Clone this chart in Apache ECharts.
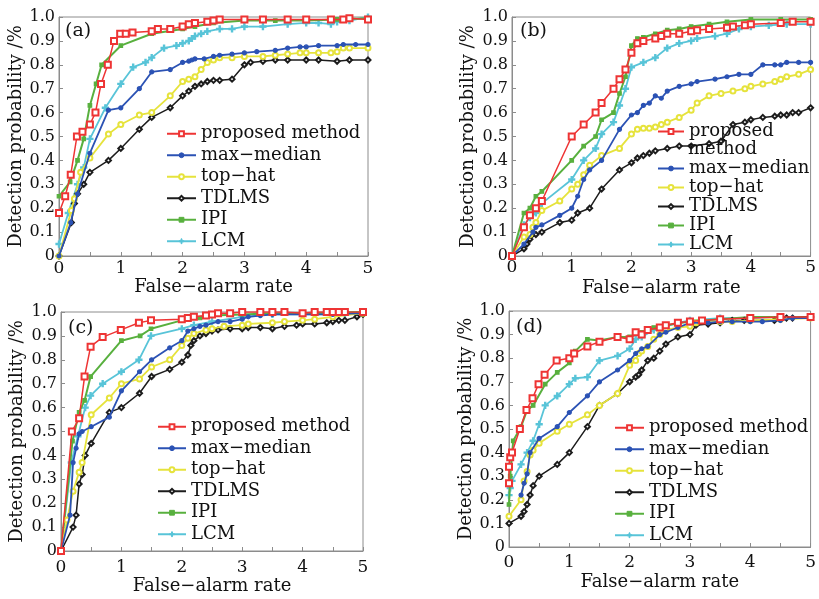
<!DOCTYPE html>
<html>
<head>
<meta charset="utf-8">
<script src="https://cdn.jsdelivr.net/npm/echarts@6/dist/echarts.min.js"></script>
<style>
  html, body { margin: 0; background: #fff; }
  #main { width: 819px; height: 599px; }
</style>
</head>
<body>
<div id="main"></div>
<script>
// method names (legend order)
const methods = ['proposed method', 'max\u2212median', 'top\u2212hat', 'TDLMS', 'IPI', 'LCM'];
const panelTags = ['(a)', '(b)', '(c)', '(d)'];
const xTicks = [0, 1, 2, 3, 4, 5];

// ---- panel (a) ----
const propA = [[0,0.18],[0.1,0.25],[0.19,0.34],[0.29,0.5],[0.38,0.52],[0.5,0.55],[0.59,0.6],[0.68,0.72],[0.79,0.8],[0.89,0.9],[0.99,0.93],[1.08,0.93],[1.19,0.935],[1.5,0.94],[1.6,0.95],[1.8,0.95],[2.0,0.96],[2.1,0.97],[2.2,0.975],[2.4,0.98],[2.5,0.985],[2.6,0.99],[3.0,0.99],[3.3,0.99],[3.7,0.99],[4.0,0.99],[4.4,0.99],[4.6,0.99],[4.7,0.995],[5,0.99]];
const maxMedA = [[0,0],[0.19,0.14],[0.3,0.26],[0.5,0.43],[0.8,0.61],[1.0,0.62],[1.3,0.7],[1.5,0.77],[1.8,0.78],[2.0,0.81],[2.1,0.815],[2.15,0.82],[2.2,0.825],[2.35,0.825],[2.5,0.835],[2.6,0.84],[2.8,0.845],[3.0,0.85],[3.2,0.855],[3.5,0.86],[3.7,0.87],[3.9,0.875],[4.0,0.875],[4.2,0.88],[4.5,0.88],[4.6,0.885],[4.8,0.885],[5,0.885]];
const topHatA = [[0,0],[0.2,0.19],[0.25,0.24],[0.35,0.35],[0.5,0.41],[0.8,0.51],[1.0,0.55],[1.3,0.59],[1.5,0.6],[1.8,0.67],[2.0,0.73],[2.1,0.74],[2.2,0.75],[2.3,0.78],[2.4,0.81],[2.5,0.82],[2.6,0.83],[2.8,0.83],[3.0,0.835],[3.3,0.835],[3.5,0.84],[3.7,0.845],[3.9,0.85],[4.0,0.85],[4.2,0.85],[4.4,0.85],[4.5,0.855],[4.6,0.87],[4.7,0.87],[5,0.87]];
const tdlmsA = [[0,0],[0.2,0.14],[0.25,0.22],[0.3,0.26],[0.4,0.3],[0.5,0.35],[0.8,0.4],[1.0,0.45],[1.3,0.53],[1.5,0.58],[1.8,0.62],[2.0,0.67],[2.1,0.69],[2.2,0.71],[2.3,0.72],[2.4,0.73],[2.5,0.735],[2.6,0.735],[2.8,0.74],[3.0,0.8],[3.1,0.81],[3.3,0.815],[3.5,0.82],[3.7,0.82],[4.0,0.82],[4.2,0.82],[4.5,0.815],[4.7,0.82],[5,0.82]];
const ipiA = [[0,0.25],[0.18,0.31],[0.3,0.4],[0.4,0.49],[0.5,0.63],[0.6,0.72],[0.69,0.8],[1.0,0.88],[1.5,0.93],[2.0,0.95],[2.2,0.96],[2.5,0.975],[3.0,0.985],[3.5,0.985],[4.0,0.985],[4.5,0.99],[5,0.995]];
const lcmA = [[0,0.05],[0.15,0.18],[0.3,0.3],[0.4,0.37],[0.5,0.49],[0.75,0.62],[1.0,0.72],[1.2,0.79],[1.4,0.81],[1.5,0.83],[1.7,0.87],[1.9,0.88],[2.0,0.89],[2.1,0.9],[2.15,0.91],[2.2,0.92],[2.3,0.93],[2.4,0.94],[2.6,0.95],[2.8,0.95],[3.0,0.96],[3.3,0.96],[3.7,0.97],[4.0,0.975],[4.2,0.975],[4.4,0.97],[4.5,0.98],[4.7,0.985],[5,1.0]];

// ---- panel (b) ----
const propB = [[0,0],[0.2,0.12],[0.3,0.17],[0.4,0.2],[0.5,0.23],[1.0,0.5],[1.2,0.55],[1.4,0.6],[1.5,0.64],[1.7,0.7],[1.8,0.74],[1.9,0.78],[2.0,0.85],[2.1,0.89],[2.2,0.9],[2.4,0.91],[2.5,0.92],[2.6,0.93],[2.8,0.93],[3.0,0.94],[3.1,0.945],[3.3,0.95],[3.6,0.955],[3.7,0.96],[3.9,0.965],[4.0,0.97],[4.5,0.975],[4.7,0.98],[5,0.98]];
const maxMedB = [[0,0],[0.2,0.05],[0.35,0.1],[0.4,0.12],[0.5,0.13],[0.8,0.17],[1.0,0.2],[1.1,0.25],[1.2,0.32],[1.3,0.36],[1.5,0.4],[1.8,0.53],[2.0,0.59],[2.1,0.6],[2.2,0.63],[2.3,0.64],[2.4,0.67],[2.5,0.66],[2.6,0.69],[2.8,0.71],[3.0,0.72],[3.1,0.73],[3.4,0.74],[3.6,0.75],[3.8,0.76],[4.0,0.76],[4.2,0.8],[4.4,0.8],[4.5,0.8],[4.6,0.81],[4.8,0.81],[5,0.81]];
const topHatB = [[0,0],[0.2,0.08],[0.3,0.09],[0.35,0.12],[0.4,0.14],[0.5,0.19],[0.8,0.23],[1.0,0.28],[1.1,0.3],[1.2,0.34],[1.3,0.38],[1.5,0.42],[1.8,0.45],[2.0,0.51],[2.1,0.53],[2.2,0.535],[2.3,0.535],[2.4,0.54],[2.5,0.55],[2.6,0.56],[2.8,0.58],[3.0,0.61],[3.1,0.64],[3.3,0.67],[3.5,0.68],[3.7,0.69],[3.9,0.7],[4.0,0.71],[4.2,0.72],[4.4,0.73],[4.5,0.74],[4.6,0.75],[4.8,0.76],[5,0.78]];
const tdlmsB = [[0,0],[0.2,0.03],[0.25,0.05],[0.3,0.07],[0.4,0.09],[0.5,0.1],[0.8,0.14],[1.0,0.15],[1.1,0.18],[1.3,0.2],[1.5,0.28],[1.8,0.36],[2.0,0.39],[2.1,0.41],[2.2,0.42],[2.3,0.43],[2.4,0.44],[2.6,0.45],[2.8,0.46],[3.0,0.46],[3.3,0.47],[3.5,0.48],[3.7,0.55],[3.9,0.56],[4.0,0.57],[4.2,0.58],[4.4,0.585],[4.5,0.59],[4.6,0.59],[4.7,0.6],[4.8,0.6],[5,0.62]];
const ipiB = [[0,0],[0.2,0.18],[0.3,0.2],[0.4,0.25],[0.5,0.27],[1.0,0.4],[1.2,0.46],[1.4,0.5],[1.5,0.57],[1.7,0.6],[1.8,0.68],[1.9,0.75],[2.0,0.88],[2.1,0.91],[2.2,0.915],[2.4,0.93],[2.6,0.945],[2.8,0.95],[3.0,0.96],[3.3,0.97],[3.6,0.98],[4.0,0.99],[4.5,0.99],[5,0.99]];
const lcmB = [[0,0],[0.2,0.13],[0.3,0.16],[0.4,0.18],[0.5,0.22],[1.0,0.32],[1.2,0.4],[1.4,0.45],[1.5,0.51],[1.7,0.56],[1.8,0.63],[1.9,0.7],[2.0,0.79],[2.2,0.81],[2.4,0.83],[2.6,0.87],[2.8,0.89],[3.0,0.9],[3.1,0.91],[3.4,0.92],[3.6,0.93],[3.8,0.95],[4.0,0.96],[4.3,0.965],[4.6,0.97],[5,0.97]];

// ---- panel (c) ----
const propC = [[0,0],[0.18,0.5],[0.3,0.555],[0.39,0.73],[0.49,0.855],[0.69,0.895],[0.99,0.925],[1.29,0.955],[1.49,0.965],[2.0,0.97],[2.1,0.975],[2.2,0.98],[2.4,0.985],[2.5,0.99],[2.6,0.995],[2.8,0.995],[3.0,1.0],[3.3,1.0],[3.5,1.0],[3.7,1.0],[4.0,0.995],[4.2,1.0],[4.4,1.0],[4.5,1.0],[4.6,1.0],[4.7,1.0],[5,1.0]];
const maxMedC = [[0,0],[0.15,0.15],[0.2,0.37],[0.25,0.43],[0.3,0.49],[0.35,0.5],[0.5,0.52],[0.8,0.56],[1.0,0.67],[1.3,0.75],[1.5,0.8],[1.8,0.85],[2.0,0.88],[2.1,0.92],[2.2,0.93],[2.3,0.94],[2.4,0.945],[2.6,0.96],[2.8,0.96],[3.0,0.97],[3.1,0.98],[3.3,0.985],[3.5,0.99],[4.0,0.99],[4.5,0.99],[5,0.995]];
const topHatC = [[0,0],[0.1,0.13],[0.2,0.25],[0.3,0.33],[0.35,0.37],[0.5,0.57],[0.8,0.64],[1.0,0.7],[1.3,0.72],[1.5,0.77],[1.8,0.8],[2.0,0.86],[2.1,0.89],[2.2,0.91],[2.4,0.925],[2.5,0.93],[2.7,0.94],[3.0,0.945],[3.1,0.95],[3.5,0.955],[3.7,0.96],[4.0,0.965],[4.2,0.97],[4.5,0.98],[5,0.995]];
const tdlmsC = [[0,0],[0.2,0.1],[0.25,0.15],[0.3,0.28],[0.35,0.32],[0.4,0.4],[0.5,0.45],[0.8,0.58],[1.0,0.6],[1.3,0.66],[1.5,0.73],[1.8,0.76],[2.0,0.79],[2.1,0.82],[2.15,0.86],[2.2,0.88],[2.3,0.9],[2.4,0.91],[2.5,0.92],[2.6,0.925],[2.8,0.93],[3.0,0.93],[3.1,0.935],[3.3,0.935],[3.5,0.93],[3.7,0.94],[3.9,0.945],[4.0,0.95],[4.2,0.95],[4.4,0.955],[4.5,0.96],[4.6,0.965],[4.7,0.965],[4.9,0.98],[5,0.99]];
const ipiC = [[0,0],[0.19,0.46],[0.3,0.58],[0.39,0.63],[0.49,0.73],[1.0,0.88],[1.31,0.9],[1.49,0.93],[2.0,0.965],[2.3,0.975],[2.5,0.985],[3.0,0.99],[3.5,0.995],[4.0,0.995],[5,1.0]];
const lcmC = [[0,0],[0.17,0.37],[0.28,0.48],[0.4,0.6],[0.49,0.65],[0.69,0.7],[1.0,0.75],[1.29,0.8],[1.49,0.9],[2.0,0.93],[2.2,0.945],[2.5,0.96],[3.0,0.98],[3.5,0.99],[4.0,0.99],[4.7,0.99],[5,1.0]];

// ---- panel (d) ----
const propD = [[0,0.27],[0,0.34],[0.02,0.38],[0.05,0.4],[0.18,0.5],[0.29,0.58],[0.39,0.63],[0.49,0.69],[0.59,0.73],[0.79,0.79],[1.0,0.8],[1.08,0.82],[1.3,0.85],[1.5,0.87],[1.8,0.89],[2.0,0.88],[2.1,0.91],[2.2,0.9],[2.3,0.92],[2.5,0.93],[2.6,0.94],[2.8,0.95],[3.0,0.955],[3.2,0.96],[3.5,0.965],[4.0,0.97],[4.5,0.975],[5,0.975]];
const maxMedD = [[0.2,0.22],[0.25,0.27],[0.3,0.31],[0.35,0.4],[0.5,0.46],[0.8,0.51],[1.0,0.57],[1.3,0.64],[1.5,0.7],[1.8,0.75],[2.0,0.79],[2.1,0.82],[2.2,0.84],[2.3,0.85],[2.5,0.9],[2.6,0.91],[2.8,0.93],[3.0,0.95],[3.3,0.95],[3.5,0.955],[3.7,0.955],[4.0,0.955],[4.2,0.955],[4.5,0.96],[4.7,0.97],[5,0.97]];
const topHatD = [[0,0.13],[0.2,0.2],[0.25,0.28],[0.3,0.32],[0.35,0.39],[0.4,0.41],[0.5,0.44],[0.8,0.49],[1.0,0.52],[1.3,0.56],[1.5,0.6],[1.8,0.65],[2.0,0.77],[2.1,0.79],[2.15,0.82],[2.2,0.83],[2.3,0.85],[2.4,0.88],[2.5,0.9],[2.6,0.92],[2.8,0.93],[3.0,0.935],[3.1,0.95],[3.5,0.955],[3.7,0.955],[4.0,0.96],[4.5,0.965],[5,0.97]];
const tdlmsD = [[0,0.1],[0.2,0.13],[0.25,0.15],[0.3,0.18],[0.35,0.22],[0.4,0.26],[0.5,0.3],[0.8,0.35],[1.0,0.4],[1.3,0.51],[1.5,0.6],[1.8,0.65],[2.0,0.7],[2.1,0.72],[2.15,0.73],[2.2,0.75],[2.3,0.79],[2.4,0.8],[2.5,0.83],[2.6,0.86],[2.8,0.89],[3.0,0.9],[3.1,0.94],[3.3,0.945],[3.5,0.95],[3.7,0.96],[3.9,0.96],[4.0,0.96],[4.4,0.96],[4.5,0.965],[4.6,0.97],[4.7,0.97],[5,0.975]];
const ipiD = [[0,0.18],[0.02,0.3],[0.07,0.45],[0.2,0.51],[0.3,0.58],[0.4,0.6],[0.6,0.69],[0.8,0.74],[1.0,0.78],[1.1,0.83],[1.3,0.88],[1.5,0.875],[1.8,0.89],[2.0,0.89],[2.2,0.91],[2.4,0.93],[2.6,0.94],[3.0,0.955],[3.5,0.965],[4.0,0.975],[4.5,0.975],[5,0.975]];
const lcmD = [[0,0.22],[0.02,0.25],[0.05,0.28],[0.2,0.35],[0.3,0.4],[0.4,0.45],[0.5,0.52],[0.6,0.6],[0.8,0.64],[1.0,0.69],[1.1,0.715],[1.3,0.72],[1.5,0.79],[1.8,0.81],[2.0,0.84],[2.1,0.88],[2.2,0.89],[2.4,0.92],[2.6,0.935],[2.8,0.95],[3.0,0.96],[3.5,0.97],[4.0,0.97],[4.5,0.975],[5,0.975]];

const panels = [
  [propA, maxMedA, topHatA, tdlmsA, ipiA, lcmA],
  [propB, maxMedB, topHatB, tdlmsB, ipiB, lcmB],
  [propC, maxMedC, topHatC, tdlmsC, ipiC, lcmC],
  [propD, maxMedD, topHatD, tdlmsD, ipiD, lcmD]
];

const FONT = 'DejaVu Serif';
const plus = 'path://M4,0H6V4H10V6H6V10H4V6H0V4H4Z';

// look of each method's curve
const looks = [
  { color: '#ee3434', symbol: 'emptyRect', size: 6, width: 1.5 },
  { color: '#2b52b4', symbol: 'circle', size: 4, width: 1.8 },
  { color: '#e6e33c', symbol: 'emptyCircle', size: 5, width: 1.8 },
  { color: '#1c1c1c', symbol: 'emptyDiamond', size: 5, width: 1.5 },
  { color: '#58b03e', symbol: 'rect', size: 3.5, width: 2 },
  { color: '#58c4d8', symbol: plus, size: 6, width: 1.8 }
];

// layout of the four panels (pixels)
const grids = [
  { left: 59, top: 17, width: 309, height: 239 },
  { left: 512, top: 17, width: 303, height: 239 },
  { left: 61, top: 312, width: 302, height: 239 },
  { left: 509, top: 311, width: 305, height: 236 }
];
const yNameGap = [34, 35, 35, 33];
const xNameGap = [17, 23, 22, 26];
const xLabelMargin = [4, 3, 8, 7];
// legends: panel (b) is split so its first label can wrap under the icon
const legendPos = [
  { left: 166, top: 123, itemWidth: 29, lineHeight: 21.5, items: methods },
  { left: 657, top: 122, itemWidth: 26, lineHeight: 19, items: [methods[0]] },
  { left: 657, top: 159, itemWidth: 26, lineHeight: 19, items: methods.slice(1) },
  { left: 157, top: 416, itemWidth: 28, lineHeight: 21.5, items: methods },
  { left: 614, top: 417, itemWidth: 29, lineHeight: 21.5, items: methods }
];
const tagPos = [[65, 33], [520, 33], [68, 330], [516, 329]];

const chart = echarts.init(document.getElementById('main'));

const series = [];
panels.forEach((sets, p) => {
  sets.forEach((data, m) => {
    const lk = looks[m];
    series.push({
      type: 'line',
      name: methods[m],
      xAxisIndex: p,
      yAxisIndex: p,
      data: data,
      symbol: lk.symbol,
      symbolSize: lk.size,
      showSymbol: true,
      lineStyle: { color: lk.color, width: lk.width },
      itemStyle: { color: lk.color, borderColor: lk.color, borderWidth: 1.2 },
      z: 10 - m,
      animation: false
    });
  });
});

chart.setOption({
  backgroundColor: '#fff',
  animation: false,
  grid: grids.map(g => Object.assign({ show: true, borderColor: '#8c8c8c', borderWidth: 1 }, g)),
  xAxis: grids.map((g, i) => ({
    gridIndex: i,
    type: 'value',
    min: 0,
    max: 5,
    interval: 0.5,
    name: 'False\u2212alarm rate',
    nameLocation: 'middle',
    nameGap: xNameGap[i],
    nameTextStyle: { fontFamily: FONT, fontSize: 18, color: '#111' },
    axisLine: { lineStyle: { color: '#8c8c8c' } },
    axisTick: { inside: true, length: 4, lineStyle: { color: '#8c8c8c' } },
    axisLabel: {
      margin: xLabelMargin[i],
      fontFamily: FONT, fontSize: 17, color: '#111',
      formatter: v => (xTicks.indexOf(v) >= 0 ? String(v) : '')
    },
    splitLine: { show: false }
  })),
  yAxis: grids.map((g, i) => ({
    gridIndex: i,
    type: 'value',
    min: 0,
    max: 1,
    interval: 0.1,
    name: 'Detection probability /%',
    nameLocation: 'middle',
    nameGap: yNameGap[i],
    nameTextStyle: { fontFamily: FONT, fontSize: 18, color: '#111' },
    axisLine: { show: true, lineStyle: { color: '#8c8c8c' } },
    axisTick: { show: true, inside: true, length: 4, lineStyle: { color: '#8c8c8c' } },
    axisLabel: {
      margin: 4,
      fontFamily: FONT, fontSize: 16, color: '#111',
      formatter: v => (v === 0 ? '0' : v.toFixed(1))
    },
    splitLine: { show: false }
  })),
  legend: legendPos.map((lp, i) => ({
    orient: 'vertical',
    left: lp.left,
    top: lp.top,
    padding: 0,
    itemGap: 0,
    itemWidth: lp.itemWidth,
    itemHeight: 6,
    itemStyle: { borderWidth: 1 },
    data: lp.items,
    selectedMode: false,
    formatter: i === 1 ? (() => 'proposed') : undefined,
    textStyle: { fontFamily: FONT, fontSize: 18, color: '#111', lineHeight: lp.lineHeight }
  })),
  graphic: tagPos.map((t, i) => ({
    type: 'text',
    left: t[0],
    top: t[1] - 11,
    z: 100,
    style: { text: panelTags[i], font: '19px "DejaVu Serif"', fill: '#111' }
  })).concat([{
    // second line of the wrapped legend label in panel (b)
    type: 'text',
    left: 688,
    top: 140,
    z: 100,
    style: { text: 'method', font: '18px "DejaVu Serif"', fill: '#111' }
  }]),
  series: series
});
</script>
</body>
</html>
